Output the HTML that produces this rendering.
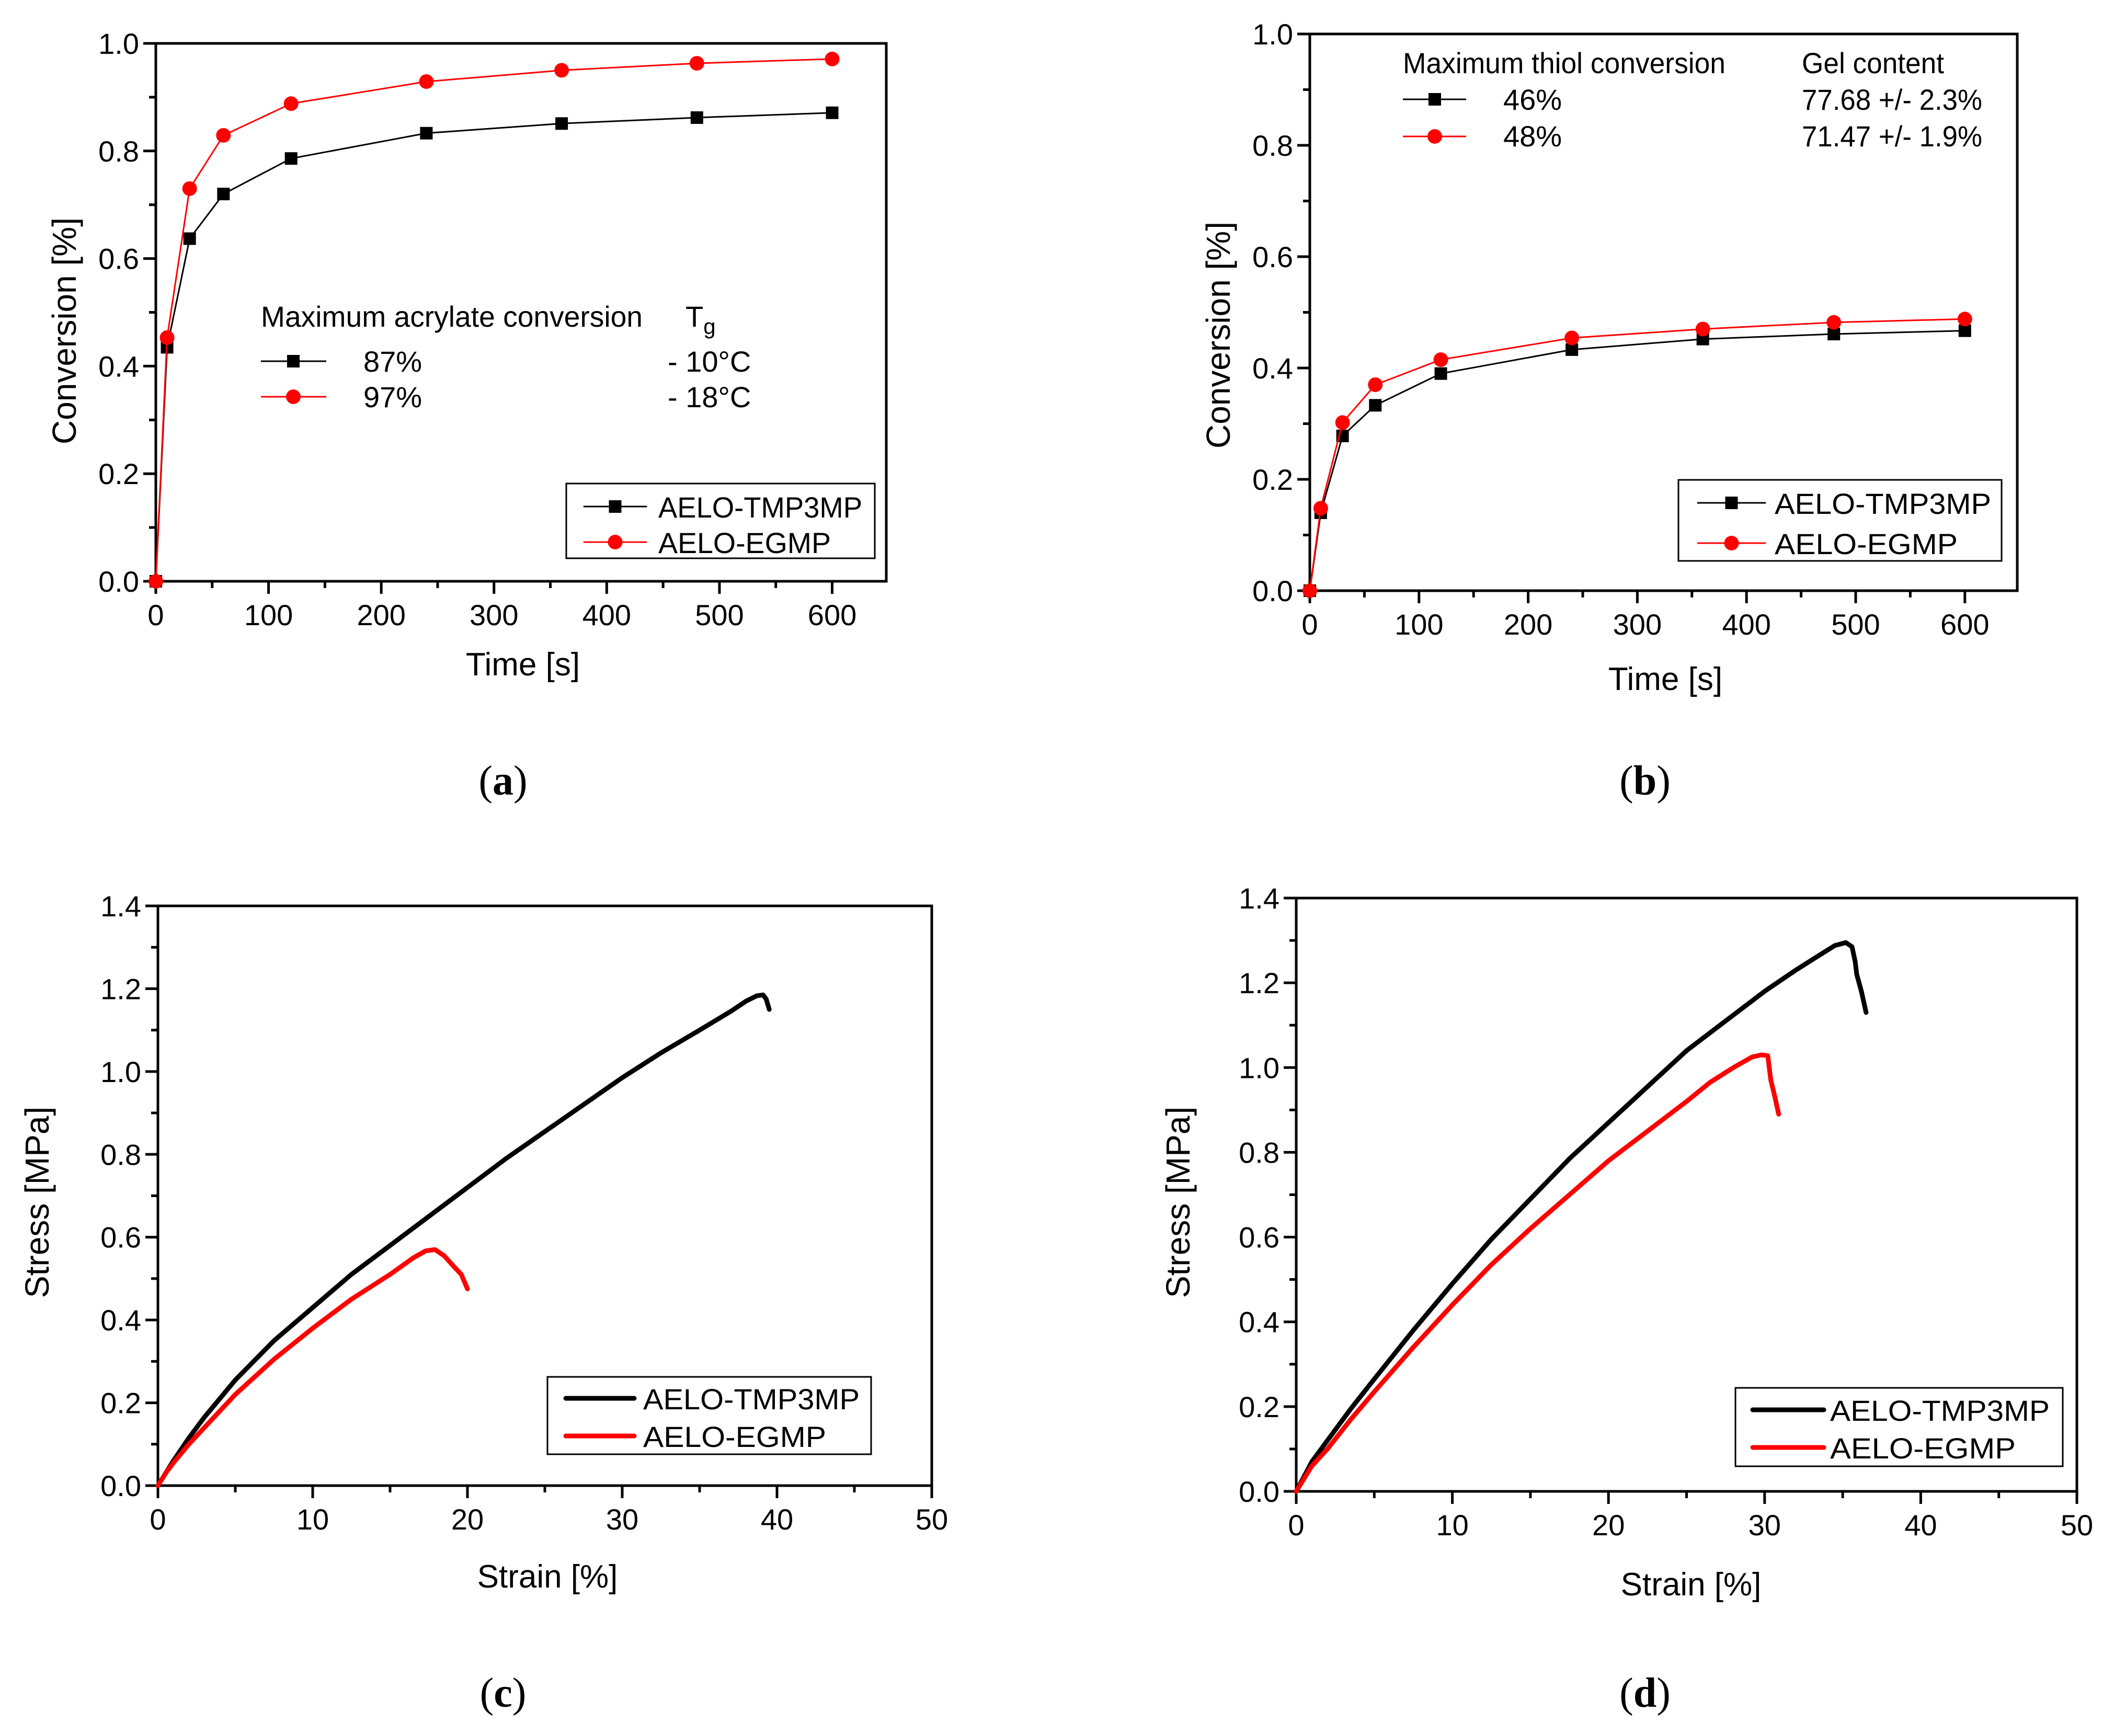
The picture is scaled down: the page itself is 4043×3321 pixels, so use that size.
<!DOCTYPE html>
<html><head><meta charset="utf-8"><style>
html,body{margin:0;padding:0;background:#fff}
svg text{font-family:"Liberation Sans",Arial,sans-serif}
</style></head><body>
<svg id="fig" xmlns="http://www.w3.org/2000/svg" width="4043" height="3316" viewBox="0 0 4043 3316">
<rect width="4043" height="3316" fill="#fff"/>
</svg>
<script>
// ---- Data ----
const timeA = [0,10,30,60,120,240,360,480,600];
const acrTMP = [0,0.435,0.637,0.72,0.786,0.833,0.851,0.862,0.871];
const acrEGMP = [0,0.453,0.73,0.829,0.888,0.929,0.95,0.963,0.971];
const timeB = [0,10,30,60,120,240,360,480,600];
const thiolTMP = [0,0.14,0.278,0.333,0.39,0.433,0.452,0.461,0.467];
const thiolEGMP = [0,0.148,0.302,0.37,0.415,0.454,0.47,0.482,0.488];
const strainC_TMP = [0,0.5,1,2,3,5,7.5,10,12.5,15,17.5,20,22.5,25,27.5,30,32.5,35,37,38,38.7,39.1,39.3,39.5];
const stressC_TMP = [0,0.03,0.06,0.115,0.165,0.255,0.35,0.43,0.51,0.58,0.65,0.72,0.79,0.855,0.92,0.985,1.045,1.1,1.145,1.17,1.183,1.185,1.175,1.15];
const strainC_EG = [0,0.5,1,2,3,5,7.5,10,12.5,15,16.5,17.3,17.9,18.5,19.1,19.6,20];
const stressC_EG = [0,0.03,0.055,0.1,0.14,0.22,0.305,0.38,0.45,0.51,0.55,0.567,0.57,0.555,0.53,0.51,0.475];
const strainD_TMP = [0,1,2,3.5,5,7.5,10,12.5,15,17.5,20,22.5,25,27.5,30,32,33.5,34.5,35.2,35.6,35.8,35.9,36.2,36.5];
const stressD_TMP = [0,0.07,0.12,0.195,0.265,0.38,0.49,0.595,0.69,0.785,0.87,0.955,1.04,1.11,1.18,1.23,1.265,1.288,1.295,1.285,1.25,1.22,1.18,1.13];
const strainD_EG = [0,1,2,3.5,5,7.5,10,12.5,15,17.5,20,22.5,25,26.5,28,29.2,29.8,30.2,30.4,30.6,30.9];
const stressD_EG = [0,0.06,0.1,0.17,0.235,0.34,0.44,0.535,0.62,0.7,0.78,0.85,0.92,0.965,1.0,1.025,1.03,1.028,0.97,0.94,0.89];
const ticksTime = [0,100,200,300,400,500,600];
const ticksConv = [0,0.2,0.4,0.6,0.8,1.0];
const ticksStrain = [0,10,20,30,40,50];
const ticksStress = [0,0.2,0.4,0.6,0.8,1.0,1.2,1.4];

const NS="http://www.w3.org/2000/svg";
const svg=document.getElementById('fig');
function mk(tag,attrs,parent,text){const e=document.createElementNS(NS,tag);for(const k in attrs)e.setAttribute(k,attrs[k]);if(text!==undefined)e.textContent=text;(parent||svg).appendChild(e);return e;}

function panel(o){
  const g=mk('g',{});
  
  
  const sx=v=>o.L+(v-o.x0)/(o.x1-o.x0)*(o.R-o.L);
  const sy=v=>o.B-(v-o.y0)/(o.y1-o.y0)*(o.B-o.T);
  const fr=mk('rect',{x:o.L,y:o.T,width:o.R-o.L,height:o.B-o.T,fill:'none',stroke:'#000','stroke-width':5},g);
  
  
  for(let v=o.x0; v<=o.x1+1e-9; v+=o.xminor){
    const major=Math.abs(Math.round(v/o.xmajor)*o.xmajor-v)<1e-6;
    const t=mk('line',{x1:sx(v),x2:sx(v),y1:o.B,y2:o.B+(major?24:13),stroke:'#000','stroke-width':5},g);
    
    
  }
  o.xt.forEach(v=>{const t=mk('text',{x:sx(v),y:o.B+84,'font-size':56,'text-anchor':'middle'},g,String(v));
    
    });
  for(let v=o.y0; v<=o.y1+1e-9; v+=o.yminor){
    const major=Math.abs(Math.round(v/o.ymajor)*o.ymajor-v)<1e-6;
    const t=mk('line',{x1:o.L,x2:o.L-(major?24:13),y1:sy(v),y2:sy(v),stroke:'#000','stroke-width':5},g);
    
    
  }
  o.yt.forEach(v=>{const t=mk('text',{x:o.L-32,y:sy(v)+20,'font-size':56,'text-anchor':'end'},g,v.toFixed(1));
    
    });
  const xt=mk('text',{x:o.xlx,y:o.xly,'font-size':62,'text-anchor':'middle'},g,o.xlabel);
  
  
  const yt=mk('text',{x:0,y:0,'font-size':64,'text-anchor':'middle',transform:`translate(${o.ylx},${o.yly}) rotate(-90)`},g,o.ylabel);
  
  
  o.series.forEach(s=>{
    const pts=s.x.map((v,i)=>sx(v).toFixed(1)+','+sy(s.y[i]).toFixed(1)).join(' ');
    const pl=mk('polyline',{points:pts,fill:'none',stroke:s.c,'stroke-width':s.w,'stroke-linejoin':'round','stroke-linecap':'round'},g);
    
    
    if(s.m){s.x.forEach((v,i)=>{
      let m;
      if(s.m==='sq') m=mk('rect',{x:sx(v)-12,y:sy(s.y[i])-12,width:24,height:24,fill:s.c},g);
      else m=mk('circle',{cx:sx(v),cy:sy(s.y[i]),r:14,fill:s.c},g);
      
      
    });}
  });
  return g;
}
function legendBox(x,y,w,h,entries){
  const g=mk('g',{});
  
  
  mk('rect',{x:x,y:y,width:w,height:h,fill:'#fff',stroke:'#000','stroke-width':3},g);
  entries.forEach(e=>{
    const eg=mk('g',{},g);
    
    
    mk('line',{x1:e.lx1,x2:e.lx2,y1:e.y,y2:e.y,stroke:e.c,'stroke-width':e.w,'stroke-linecap':'round'},eg);
    if(e.m==='sq') mk('rect',{x:(e.lx1+e.lx2)/2-12,y:e.y-12,width:24,height:24,fill:e.c},eg);
    if(e.m==='ci') mk('circle',{cx:(e.lx1+e.lx2)/2,cy:e.y,r:14,fill:e.c},eg);
    mk('text',{x:e.tx,y:e.y+21,'font-size':56,textLength:e.tl,lengthAdjust:'spacingAndGlyphs'},eg,e.t);
  });
}
function txt(x,y,s,name,fs,anchor){const t=mk('text',{x:x,y:y,'font-size':fs||56,'text-anchor':anchor||'start'},svg,s);
  
  return t;}

// Panel a
panel({name:'panel-a',L:298,R:1695,T:83,B:1112,x0:0,x1:648,y0:0,y1:1,xmajor:100,xminor:50,ymajor:0.2,yminor:0.1,
 xt:ticksTime,yt:ticksConv,xlabel:'Time [s]',ylabel:'Conversion [%]',xlx:1000,xly:1292,ylx:145,yly:633,
 series:[{n:'aelo-tmp3mp',x:timeA,y:acrTMP,c:'#000',w:3,m:'sq'},{n:'aelo-egmp',x:timeA,y:acrEGMP,c:'#f00',w:3,m:'ci'}]});
legendBox(1083,925,590,143,[
 {lx1:1117,lx2:1236,y:969,c:'#000',w:3,m:'sq',tx:1259,t:'AELO-TMP3MP',tl:390},
 {lx1:1117,lx2:1236,y:1037,c:'#f00',w:3,m:'ci',tx:1259,t:'AELO-EGMP',tl:330}]);
const t1=txt(499,625,'Maximum acrylate conversion','annotation-title'); t1.setAttribute('textLength',730); t1.setAttribute('lengthAdjust','spacingAndGlyphs');
const tg=txt(1311,625,'T','annotation-tg');
mk('tspan',{'font-size':42,dy:14},tg,'g');
mk('line',{x1:499,x2:624,y1:691,y2:691,stroke:'#000','stroke-width':3});
mk('rect',{x:549,y:679,width:24,height:24,fill:'#000'});
mk('line',{x1:499,x2:624,y1:759,y2:759,stroke:'#f00','stroke-width':3});
mk('circle',{cx:561,cy:759,r:14,fill:'#f00'});
txt(695,711,'87%','annotation-value'); txt(695,779,'97%','annotation-value');
txt(1277,711,'- 10°C','annotation-tg-value'); txt(1277,779,'- 18°C','annotation-tg-value');

// Panel b
panel({name:'panel-b',L:2505,R:3858,T:65,B:1130,x0:0,x1:648,y0:0,y1:1,xmajor:100,xminor:50,ymajor:0.2,yminor:0.1,
 xt:ticksTime,yt:ticksConv,xlabel:'Time [s]',ylabel:'Conversion [%]',xlx:3185,xly:1320,ylx:2352,yly:641,
 series:[{n:'aelo-tmp3mp',x:timeB,y:thiolTMP,c:'#000',w:3,m:'sq'},{n:'aelo-egmp',x:timeB,y:thiolEGMP,c:'#f00',w:3,m:'ci'}]});
legendBox(3210,918,618,155,[
 {lx1:3247,lx2:3376,y:962,c:'#000',w:3,m:'sq',tx:3394,t:'AELO-TMP3MP',tl:414},
 {lx1:3247,lx2:3376,y:1039,c:'#f00',w:3,m:'ci',tx:3394,t:'AELO-EGMP',tl:350}]);
const t2=txt(2683,140,'Maximum thiol conversion','annotation-title'); t2.setAttribute('textLength',617); t2.setAttribute('lengthAdjust','spacingAndGlyphs');
const t3=txt(3446,140,'Gel content','annotation-title'); t3.setAttribute('textLength',272); t3.setAttribute('lengthAdjust','spacingAndGlyphs');
mk('line',{x1:2683,x2:2804,y1:190,y2:190,stroke:'#000','stroke-width':3});
mk('rect',{x:2732,y:178,width:24,height:24,fill:'#000'});
mk('line',{x1:2683,x2:2804,y1:261,y2:261,stroke:'#f00','stroke-width':3});
mk('circle',{cx:2744,cy:261,r:14,fill:'#f00'});
txt(2875,210,'46%','annotation-value'); txt(2875,280,'48%','annotation-value');
const g1=txt(3446,210,'77.68 +/- 2.3%','gel-value'); g1.setAttribute('textLength',345); g1.setAttribute('lengthAdjust','spacingAndGlyphs');
const g2=txt(3446,280,'71.47 +/- 1.9%','gel-value'); g2.setAttribute('textLength',345); g2.setAttribute('lengthAdjust','spacingAndGlyphs');

// Panel c
panel({name:'panel-c',L:302,R:1782,T:1733,B:2842,x0:0,x1:50,y0:0,y1:1.4,xmajor:10,xminor:5,ymajor:0.2,yminor:0.1,
 xt:ticksStrain,yt:ticksStress,xlabel:'Strain [%]',ylabel:'Stress [MPa]',xlx:1047,xly:3037,ylx:93,yly:2300,
 series:[{n:'aelo-tmp3mp',x:strainC_TMP,y:stressC_TMP,c:'#000',w:9},{n:'aelo-egmp',x:strainC_EG,y:stressC_EG,c:'#f00',w:9}]});
legendBox(1047,2634,619,148,[
 {lx1:1082,lx2:1213,y:2675,c:'#000',w:9,tx:1230,t:'AELO-TMP3MP',tl:414},
 {lx1:1082,lx2:1213,y:2747,c:'#f00',w:9,tx:1230,t:'AELO-EGMP',tl:350}]);

// Panel d
panel({name:'panel-d',L:2479,R:3972,T:1718,B:2853,x0:0,x1:50,y0:0,y1:1.4,xmajor:10,xminor:5,ymajor:0.2,yminor:0.1,
 xt:ticksStrain,yt:ticksStress,xlabel:'Strain [%]',ylabel:'Stress [MPa]',xlx:3234,xly:3052,ylx:2275,yly:2300,
 series:[{n:'aelo-tmp3mp',x:strainD_TMP,y:stressD_TMP,c:'#000',w:9},{n:'aelo-egmp',x:strainD_EG,y:stressD_EG,c:'#f00',w:9}]});
legendBox(3319,2655,626,150,[
 {lx1:3352,lx2:3488,y:2697,c:'#000',w:9,tx:3500,t:'AELO-TMP3MP',tl:420},
 {lx1:3352,lx2:3488,y:2769,c:'#f00',w:9,tx:3500,t:'AELO-EGMP',tl:355}]);

// Panel labels
[['(a)',962,1520],['(b)',3146,1520],['(c)',962,3265],['(d)',3146,3265]].forEach(p=>{
  const t=mk('text',{x:p[1],y:p[2],'font-size':80,'text-anchor':'middle'},svg);
  
  
  t.style.fontFamily='"Liberation Serif", serif';
  mk('tspan',{},t,'(');
  mk('tspan',{'font-weight':'bold'},t,p[0][1]);
  mk('tspan',{},t,')');
});
</script>
</body></html>
